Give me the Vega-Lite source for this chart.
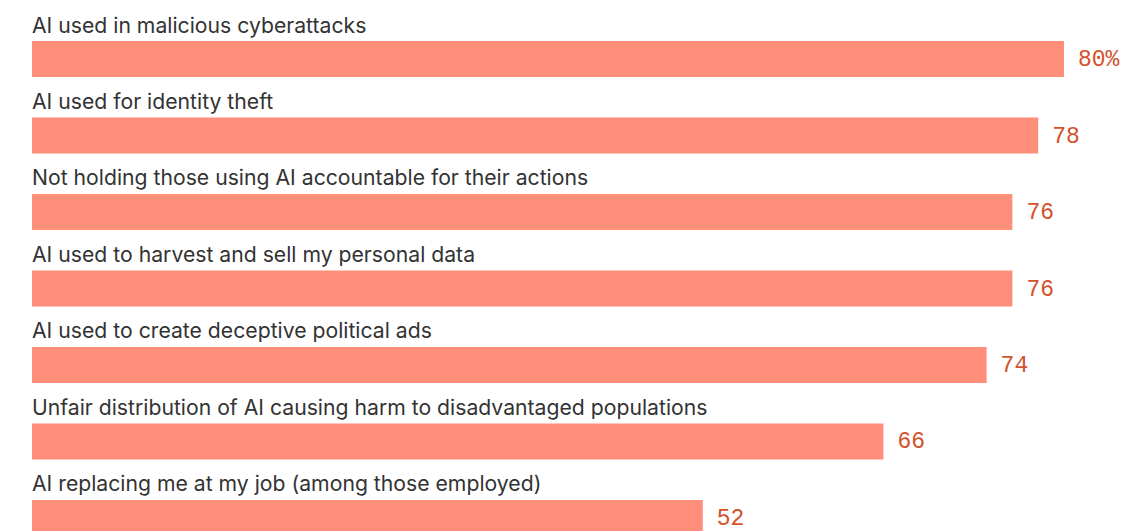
{
  "$schema": "https://vega.github.io/schema/vega-lite/v6.json",
  "width": 1032,
  "height": 508,
  "autosize": {"type": "none"},
  "padding": {"left": 32, "top": 34.5, "right": 59, "bottom": 0},
  "background": "white",
  "config": {"view": {"stroke": null}},
  "data": {"values": [
    {"category": "AI used in malicious cyberattacks", "value": 80, "label": "80%"},
    {"category": "AI used for identity theft", "value": 78, "label": "78"},
    {"category": "Not holding those using AI accountable for their actions", "value": 76, "label": "76"},
    {"category": "AI used to harvest and sell my personal data", "value": 76, "label": "76"},
    {"category": "AI used to create deceptive political ads", "value": 74, "label": "74"},
    {"category": "Unfair distribution of AI causing harm to disadvantaged populations", "value": 66, "label": "66"},
    {"category": "AI replacing me at my job (among those employed)", "value": 52, "label": "52"}
  ]},
  "encoding": {
    "y": {"field": "category", "type": "nominal", "sort": null, "axis": null,
          "scale": {"paddingInner": 0.529, "paddingOuter": 0.085}}
  },
  "layer": [
    {
      "mark": {"type": "bar", "color": "#FF8E7A"},
      "encoding": {
        "x": {"field": "value", "type": "quantitative", "axis": null,
              "scale": {"domain": [0, 80], "nice": false, "zero": true}}
      }
    },
    {
      "mark": {"type": "text", "align": "left", "baseline": "alphabetic", "dy": -8.5,
               "font": "Inter", "fontSize": 21.2, "color": "#333333"},
      "encoding": {
        "y": {"field": "category", "type": "nominal", "sort": null, "bandPosition": 0},
        "x": {"datum": 0, "type": "quantitative"},
        "text": {"field": "category"}
      }
    },
    {
      "mark": {"type": "text", "align": "left", "baseline": "middle", "dx": 14,
               "font": "Liberation Mono", "fontSize": 23, "color": "#D4512C"},
      "encoding": {
        "x": {"field": "value", "type": "quantitative"},
        "text": {"field": "label"}
      }
    }
  ]
}
